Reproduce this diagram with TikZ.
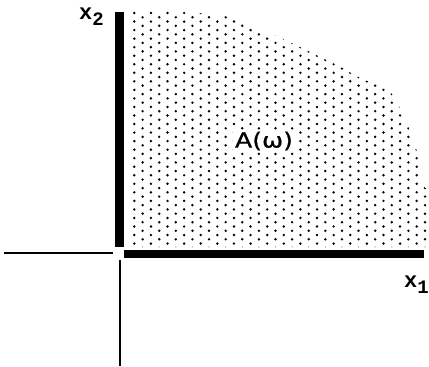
\documentclass[tikz,border=0pt]{standalone}
\usepackage{fontspec}
\newfontfamily\monolab{Liberation Mono}
\newfontfamily\sanslab[FakeBold=0.8]{DejaVu Sans}
\begin{document}
\begin{tikzpicture}[x=1pt,y=-1pt,
  thickbar/.style={fill=black},
  thinaxis/.style={draw=black,line width=2pt},
  dotmark/.style={fill=black},
  axislabel/.style={inner sep=0pt,font=\monolab\bfseries\fontsize{22}{22}\selectfont},
  regionlabel/.style={fill=white,inner sep=2pt,font=\sanslab\fontsize{21}{21}\selectfont}]
\useasboundingbox (0,0) rectangle (429,367);
% dotted region A(omega)
\begin{scope}
  \clip (129,9) -- (168,9) -- (193,12) -- (217,16) -- (236,16) -- (262,29)
    -- (287,41) -- (304,49) -- (314,54) -- (339,66) -- (356,76) -- (374,84)
    -- (390,91) -- (398,104) -- (408,126) -- (416,148) -- (425,188)
    -- (429,188) -- (429,247) -- (129,247) -- cycle;
  \foreach \i in {0,...,35}{
    \foreach \j in {0,...,27}{
      \pgfmathsetmacro{\dx}{134.3+8.306*\i}
      \pgfmathsetmacro{\dy}{13+8.54*\j+4.27*mod(\i,2)}
      \fill[dotmark] (\dx,\dy) circle (1.35pt);
    }
  }
\end{scope}
% thick axes bounding the region
\fill[thickbar] (115,12) rectangle (124,247);
\fill[thickbar] (124,249.5) rectangle (423.5,258);
% thin axes
\coordinate (hl) at (4,253.3);
\coordinate (hr) at (113,253.3);
\coordinate (vt) at (119.5,260);
\coordinate (vb) at (119.5,366);
\draw[thinaxis] (hl) -- (hr);
\draw[thinaxis] (vt) -- (vb);
% labels
\node[axislabel,anchor=base west] (xtwo) at (79,19) {x\raisebox{-6pt}{\fontsize{19}{19}\selectfont 2}};
\node[axislabel,anchor=base west] (xone) at (404,287) {x\raisebox{-6pt}{\fontsize{19}{19}\selectfont 1}};
\node[regionlabel] (aw) at (264,141) {\scalebox{1.2}[1]{A(ω)}};
\end{tikzpicture}
\end{document}
